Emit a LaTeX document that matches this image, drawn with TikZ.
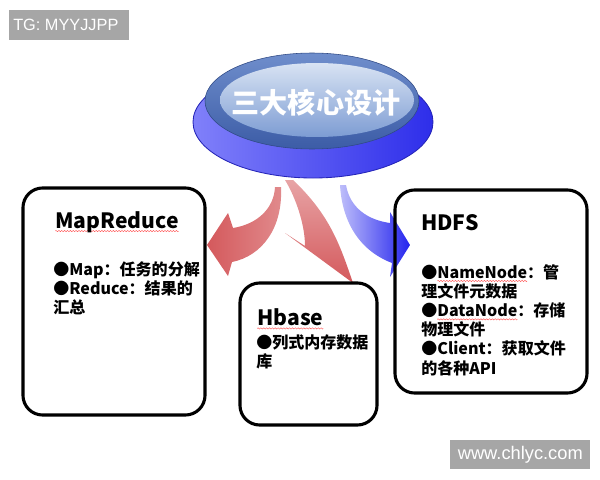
\documentclass[tikz,border=0pt]{standalone}
\usepackage{fontspec}
\setmainfont{Noto Sans CJK SC}
\newfontfamily\wmfont{Liberation Sans}
\usepackage{tikz}
\usetikzlibrary{
  positioning,
  calc
}
\definecolor{wmGray}{HTML}{A6A6A6}
\definecolor{arrowRed}{HTML}{D4595C}
\definecolor{arrowBlue}{HTML}{2424EE}
\definecolor{baseLight}{HTML}{8080FA}
\definecolor{baseBlue}{HTML}{2E2EEA}
\definecolor{baseDark}{HTML}{2424B8}
\definecolor{capLight}{HTML}{6F8ECC}
\definecolor{capDark}{HTML}{3C5CA6}
\definecolor{hiLight}{HTML}{D8E3F3}
\definecolor{hiDark}{HTML}{7D9CD3}

% 赤い波線（スペルチェックの下線）
\newsavebox\wavebox
\sbox\wavebox{\tikz[trim left=0pt, trim right=2pt]
  \draw[red!70, line width=0.3pt] (0,0) sin (0.5pt,0.45pt) cos (1pt,0) sin (1.5pt,-0.45pt) cos (2pt,0);}
\newcommand\redwave[1]{\setbox0\hbox{#1}\leavevmode
  \rlap{\lower2.6pt\hbox to\wd0{\xleaders\copy\wavebox\hfil}}\box0}

\tikzstyle{box}=[draw, line width=2.2pt, rounded corners=14pt]
\tikzstyle{boxtitle}=[anchor=west, inner sep=0pt, font=\fontsize{15}{18}\selectfont\bfseries]
\tikzstyle{items}=[anchor=north west, inner sep=0pt, align=left, font=\fontsize{11.4}{13.65}\selectfont\bfseries]
\tikzstyle{wmbox}=[fill=wmGray, inner sep=0pt]
\tikzstyle{wmtext}=[text=white, inner sep=0pt, font=\wmfont]

\begin{document}
\begin{tikzpicture}[x=0.025cm, y=-0.025cm]
  \useasboundingbox (0,0) rectangle (600,480);

  % 透かし
  \node[wmbox, anchor=north west, minimum width=3cm, minimum height=0.75cm] (tg) at (9,10) {};
  \node[wmtext, anchor=west, font=\wmfont\fontsize{11.6}{14}\selectfont] (tgtext) at ([xshift=0.1cm]tg.west) {TG: MYYJJPP};
  \node[wmbox, anchor=north west, minimum width=3.5cm, minimum height=0.725cm] (www) at (450,440) {};
  \node[wmtext, font=\wmfont\fontsize{13}{15}\selectfont] (wwwtext) at (www.center) {www.chlyc.com};

  % 矢印（ボタンの下から）
  \shade[left color=arrowRed, right color=arrowRed!70]
    (275,187) .. controls (274,208) and (258,224) .. (233,228) -- (228,213) -- (207,245)
    -- (228,276) -- (232,262) .. controls (262,256) and (283,228) .. (281,187) -- cycle;
  \shade[top color=arrowRed!55, bottom color=arrowRed]
    (285,180) .. controls (296,198) and (305,225) .. (305,246) -- (285,233)
    -- (353,283) .. controls (340,245) and (330,215) .. (293,180) -- cycle;
  \shade[left color=arrowBlue!30, right color=arrowBlue]
    (340,185) .. controls (342,220) and (358,250) .. (392,263) -- (390,277) -- (410,245)
    -- (390,212) -- (390,223) .. controls (368,220) and (350,208) .. (346,185) -- cycle;

  % 中心のボタン
  \shadedraw[left color=baseLight, right color=baseBlue, draw=baseDark, line width=0.6pt]
    (313,122) ellipse [x radius=120, y radius=56];
  \shadedraw[top color=capLight, bottom color=capDark, draw=capDark!80!black, line width=0.4pt]
    (312,101) ellipse [x radius=107, y radius=48];
  \shade[top color=hiLight, bottom color=hiDark] (317,100) ellipse [x radius=97, y radius=37];
  \node (core) at (316,103) [text=white, font=\fontsize{20}{24}\selectfont\bfseries]{三大核心设计};

  % MapReduce
  \node[box, minimum width=4.55cm, minimum height=5.675cm] (mapreduce) at (114,301.5) {};
  \node[boxtitle] (mrtitle) at (55,222) {\redwave{MapReduce}};
  \node[items] (mritems) at (53,261) {●Map：任务的分解\\●Reduce：结果的\\汇总};

  % Hbase
  \node[box, minimum width=3.425cm, minimum height=3.55cm] (hbase) at (308.5,354) {};
  \node[boxtitle] (hbtitle) at (257,319) {\redwave{Hbase}};
  \node[items] (hbitems) at (256,334) {●列式内存数据\\库};

  % HDFS
  \node[box, minimum width=4.8cm, minimum height=5.075cm] (hdfs) at (491,291.5) {};
  \node[boxtitle] (hdtitle) at (421,223) {HDFS};
  \node[items] (hditems) at (421,264) {●\redwave{NameNode}：管\\理文件元数据\\●\redwave{DataNode}：存储\\物理文件\\●Client：获取文件\\的各种API};
\end{tikzpicture}
\end{document}
